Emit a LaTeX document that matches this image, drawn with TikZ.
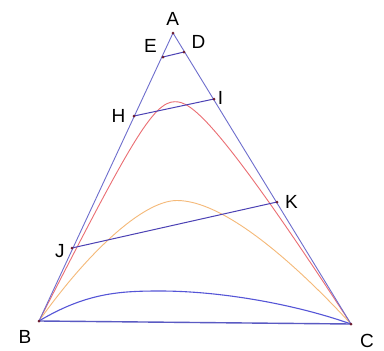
\documentclass[tikz,border=0pt]{standalone}
\usepackage{fontspec}
\setmainfont{Liberation Sans}
\begin{document}
\begin{tikzpicture}[x=1pt,y=-1pt,
  side/.style={draw={rgb,255:red,110;green,110;blue,205},line width=0.9pt},
  base/.style={draw={rgb,255:red,90;green,90;blue,195},line width=1.4pt},
  seg/.style={draw={rgb,255:red,75;green,65;blue,180},line width=1pt},
  redc/.style={draw={rgb,255:red,235;green,110;blue,115},line width=0.9pt},
  orac/.style={draw={rgb,255:red,245;green,185;blue,120},line width=0.9pt},
  bluec/.style={draw={rgb,255:red,85;green,85;blue,215},line width=1.1pt},
  pt/.style={circle,fill={rgb,255:red,110;green,30;blue,50},inner sep=0pt,minimum size=3pt},
  lab/.style={font=\fontsize{19}{19}\selectfont,inner sep=0pt}]
\useasboundingbox (0,0) rectangle (384,351);
\fill[white] (0,0) rectangle (384,351);
\coordinate (A) at (173,33);
\coordinate (B) at (39,321);
\coordinate (C) at (351,324);
\coordinate (E) at (163,57);
\coordinate (D) at (184,52);
\coordinate (H) at (134,116);
\coordinate (I) at (214,99);
\coordinate (J) at (72,248);
\coordinate (K) at (277,202);
\coordinate (Rt) at (175,101.7);
\coordinate (Ot) at (177,200.5);
\coordinate (Bt) at (160,291);
% curves
\draw[redc] (B) .. controls (130.2,143) and (153,101.7) .. (Rt)
  .. controls (190,101.7) and (214.5,114.5) .. (C);
\draw[orac] (B) .. controls (85.2,255.6) and (142,200.5) .. (Ot)
  .. controls (222,200.5) and (290,257.9) .. (C);
\draw[bluec] (B) .. controls (86.2,292.8) and (120,291) .. (Bt)
  .. controls (220,291) and (294.4,304) .. (C);
% triangle
\draw[side] (B) -- (A) -- (C);
\draw[base] (B) -- (C);
% segments
\draw[seg] (E) -- (D);
\draw[seg] (H) -- (I);
\draw[seg] (J) -- (K);
% points
\foreach \p in {A,B,C,D,E,H,I,J,K} \node[pt] at (\p) {};
% labels
\node[lab] (lA) at (172.7,18.5) {A};
\node[lab] (lE) at (150.5,45.5) {E};
\node[lab] (lD) at (198.5,42) {D};
\node[lab] (lH) at (118.5,116) {H};
\node[lab] (lI) at (220.5,98) {I};
\node[lab] (lK) at (291.5,201.5) {K};
\node[lab] (lJ) at (60,251) {J};
\node[lab] (lB) at (25,337) {B};
\node[lab] (lC) at (367,340.5) {C};
\end{tikzpicture}
\end{document}
